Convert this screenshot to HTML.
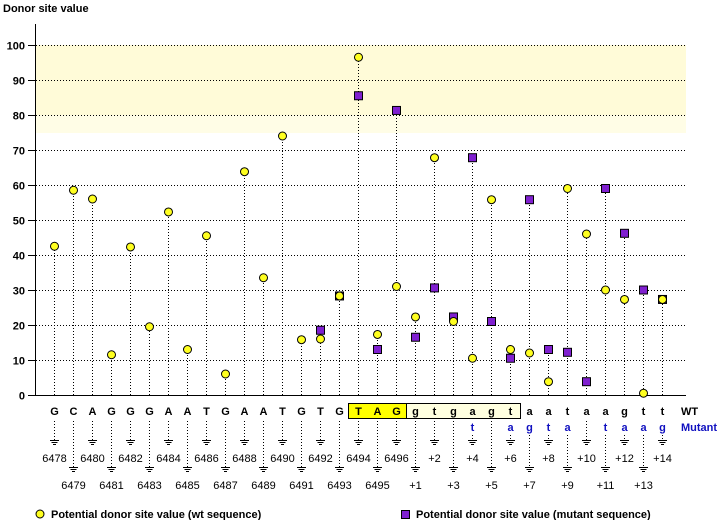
<!DOCTYPE html>
<html><head><meta charset="utf-8"><style>
body{margin:0;background:#fff;width:720px;height:520px;overflow:hidden}
svg text{font-family:"Liberation Sans",sans-serif}
</style></head><body>
<svg id="s" width="720" height="520" xmlns="http://www.w3.org/2000/svg"></svg>
<script>
var s=document.getElementById('s'),h='';
function Y(v){return 395-v*3.5}
function X(i){return 54+i*19}
h+='<rect x="36" y="45" width="650" height="88" fill="#fffde6"/>';
h+='<rect x="36" y="45" width="650" height="70" fill="#fffbd8"/>';
h+='<text x="3" y="12" font-size="11" font-weight="bold">Donor site value</text>';
h+='<line x1="35.5" y1="24" x2="35.5" y2="395" stroke="#000"/>';
h+='<line x1="35" y1="395.5" x2="686" y2="395.5" stroke="#000"/>';
for(var v=0;v<=100;v+=10){var y=Y(v)+0.5;
 h+='<line x1="28" y1="'+y+'" x2="35" y2="'+y+'" stroke="#000"/>';
 if(v>0)h+='<line x1="36" y1="'+y+'" x2="686" y2="'+y+'" stroke="#000" stroke-dasharray="1,2"/>';
 h+='<text x="25" y="'+(y+4)+'" font-size="11" font-weight="bold" text-anchor="end">'+v+'</text>';}
var wt=[42.5,58.5,56,11.5,42.3,19.5,52.3,13,45.5,6,63.8,33.5,74,15.8,16,28.3,96.5,17.3,31,22.3,67.8,21,10.5,55.8,13,12,3.8,59,46,30,27.3,0.5,27.3];
var mu={14:18.5,15:28.3,16:85.5,17:13,18:81.3,19:16.5,20:30.6,21:22.3,22:67.8,23:21,24:10.5,25:55.8,26:13,27:12.2,28:3.8,29:59,30:46.2,31:30,32:27.3};
var seq="GCAGGGAATGAATGTGTAGgtgagtaataagtt";
var mut={22:'t',24:'a',25:'g',26:'t',27:'a',29:'t',30:'a',31:'a',32:'g'};
h+='<rect x="348.5" y="403.5" width="58" height="15" fill="#ffff00" stroke="#000"/>';
h+='<rect x="406.5" y="403.5" width="114" height="15" fill="#ffffe0" stroke="#000"/>';
for(var i=0;i<33;i++){var x=X(i)+0.5;
 var m=Math.max(wt[i],mu[i]||0);
 h+='<line x1="'+x+'" y1="395" x2="'+x+'" y2="'+Y(m)+'" stroke="#000" stroke-dasharray="1,2"/>';
 if(mu[i]!==undefined)h+='<rect x="'+(x-4)+'" y="'+(Y(mu[i])-4)+'" width="8" height="8" fill="#8020d0" stroke="#000"/>';
 h+='<circle cx="'+x+'" cy="'+Y(wt[i])+'" r="4" fill="#ffff20" stroke="#000"/>';
 h+='<text x="'+x+'" y="415" font-size="11" font-weight="bold" text-anchor="middle">'+seq[i]+'</text>';
 var st=421;
 if(mut[i]){h+='<text x="'+x+'" y="431" font-size="11" font-weight="bold" fill="#1010c0" text-anchor="middle">'+mut[i]+'</text>';st=435;}
 var gy=(i%2==0)?440:467;
 h+='<line x1="'+x+'" y1="'+st+'" x2="'+x+'" y2="'+gy+'" stroke="#000" stroke-dasharray="1,2"/>';
 h+='<line x1="'+(x-4.5)+'" y1="'+(gy+0.5)+'" x2="'+(x+4.5)+'" y2="'+(gy+0.5)+'" stroke="#000"/>';
 h+='<line x1="'+(x-3)+'" y1="'+(gy+2.5)+'" x2="'+(x+3)+'" y2="'+(gy+2.5)+'" stroke="#000"/>';
 h+='<line x1="'+(x-1.5)+'" y1="'+(gy+4.5)+'" x2="'+(x+1.5)+'" y2="'+(gy+4.5)+'" stroke="#000"/>';
 var lab=i<19?String(6478+i):'+'+(i-18);
 h+='<text x="'+x+'" y="'+(gy+22)+'" font-size="11" text-anchor="middle">'+lab+'</text>';}
h+='<text x="681" y="415" font-size="11" font-weight="bold">WT</text>';
h+='<text x="681" y="431" font-size="11" font-weight="bold" fill="#1010c0">Mutant</text>';
h+='<circle cx="40" cy="514" r="4" fill="#ffff20" stroke="#000"/>';
h+='<text x="51" y="518" font-size="11" font-weight="bold">Potential donor site value (wt sequence)</text>';
h+='<rect x="401.5" y="510.5" width="8" height="8" fill="#8020d0" stroke="#000"/>';
h+='<text x="416" y="518" font-size="11" font-weight="bold">Potential donor site value (mutant sequence)</text>';
s.innerHTML=h;
</script>
</body></html>
